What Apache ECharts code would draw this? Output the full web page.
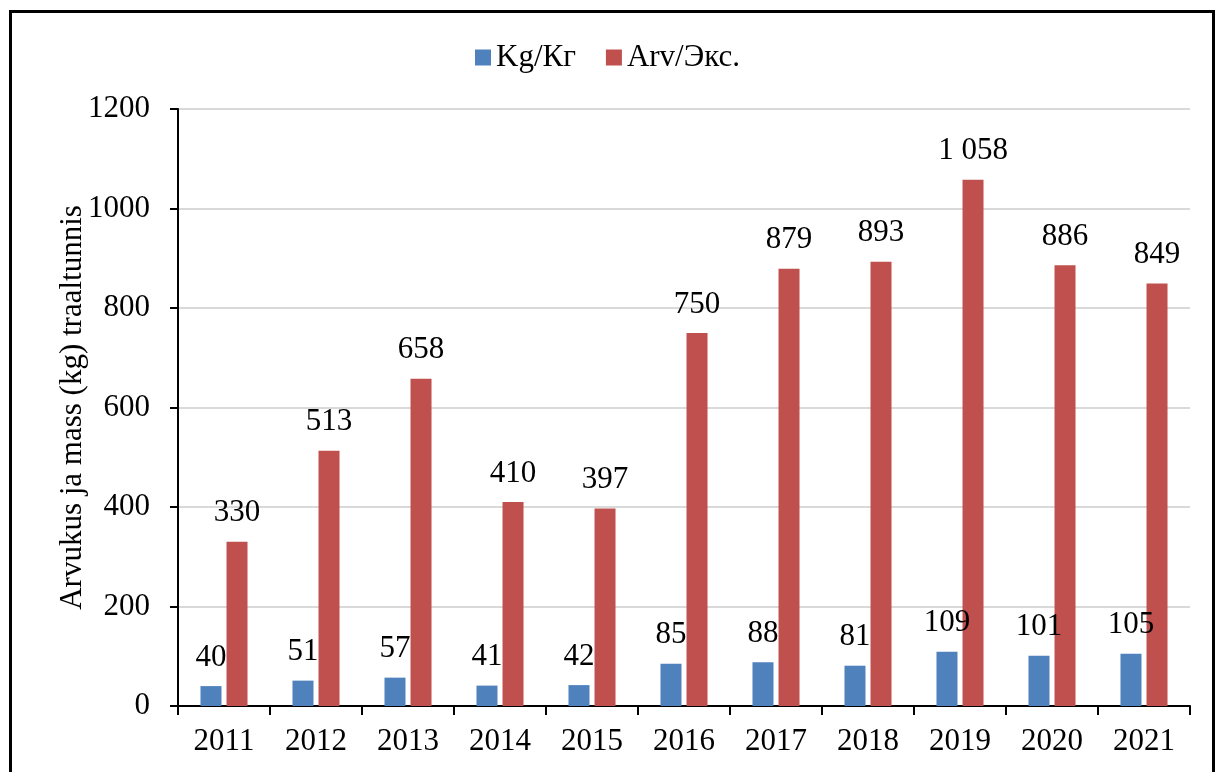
<!DOCTYPE html>
<html>
<head>
<meta charset="utf-8">
<script src="https://cdn.jsdelivr.net/npm/echarts@6/dist/echarts.min.js"></script>
<style>
    html, body {margin: 0; padding: 0; background: #fff;}
    #frame {position: absolute; left: 9px; top: 10px; width: 1200px; height: 800px; border: 3px solid #000;}
    #main {position: absolute; left: 0; top: 0; width: 1215px; height: 772px;}
</style>
</head>
<body>
<div id="frame"></div>
<div id="main"></div>
<script>
const years = ['2011', '2012', '2013', '2014', '2015', '2016', '2017', '2018', '2019', '2020', '2021']
const kgValues = [40, 51, 57, 41, 42, 85, 88, 81, 109, 101, 105]
const arvValues = [330, 513, 658, 410, 397, 750, 879, 893, 1058, 886, 849]
const yTicks = [0, 200, 400, 600, 800, 1000, 1200]

const font = '"Liberation Serif", "DejaVu Serif", serif'

const fmt = (v) => {
    // thousands separated by a space, like the original
    return String(v).replace(/\B(?=(\d{3})+(?!\d))/g, ' ')
}

const myChart = echarts.init(document.getElementById('main'))

let option = {
    backgroundColor: 'transparent',
    textStyle: {fontFamily: font, color: '#000'},
    legend: {
        top: 37,
        left: 'center',
        itemWidth: 16,
        itemHeight: 16,
        itemGap: 30,
        icon: 'rect',
        textStyle: {fontFamily: font, fontSize: 31, color: '#000'},
        data: ['Kg/Кг', 'Arv/Экс.']
    },
    grid: {
        left: 178,
        right: 25,
        top: 109,
        bottom: 66,
        containLabel: false
    },
    xAxis: {
        type: 'category',
        data: years,
        axisLine: {lineStyle: {color: '#000', width: 2}},
        axisTick: {show: true, length: 9, interval: 0, lineStyle: {color: '#000', width: 2}},
        axisLabel: {fontFamily: font, fontSize: 31, color: '#000', margin: 20, interval: 0}
    },
    yAxis: {
        type: 'value',
        min: yTicks[0],
        max: yTicks[yTicks.length - 1],
        interval: 200,
        name: 'Arvukus ja mass (kg) traaltunnis',
        nameLocation: 'middle',
        nameGap: 90,
        nameMoveOverlap: false,
        nameTextStyle: {fontFamily: font, fontSize: 31, color: '#000'},
        axisLine: {show: true, lineStyle: {color: '#000', width: 2}},
        axisTick: {show: true, length: 8, lineStyle: {color: '#000', width: 2}},
        axisLabel: {fontFamily: font, fontSize: 31, color: '#000', margin: 28, formatter: v => String(v)},
        splitLine: {lineStyle: {color: '#d9d9d9', width: 2}}
    },
    series: [
        {
            name: 'Kg/Кг',
            type: 'bar',
            data: kgValues,
            barWidth: 21,
            barGap: '24%',
            itemStyle: {color: '#4f81bd'},
            label: {
                show: true,
                position: 'top',
                distance: 13,
                fontFamily: font,
                fontSize: 31,
                color: '#000',
                formatter: p => fmt(p.value)
            }
        },
        {
            name: 'Arv/Экс.',
            type: 'bar',
            data: arvValues,
            barWidth: 21,
            barGap: '24%',
            itemStyle: {color: '#c0504d'},
            label: {
                show: true,
                position: 'top',
                distance: 13,
                fontFamily: font,
                fontSize: 31,
                color: '#000',
                formatter: p => fmt(p.value)
            }
        }
    ]
}

option && myChart.setOption(option)
</script>
</body>
</html>
